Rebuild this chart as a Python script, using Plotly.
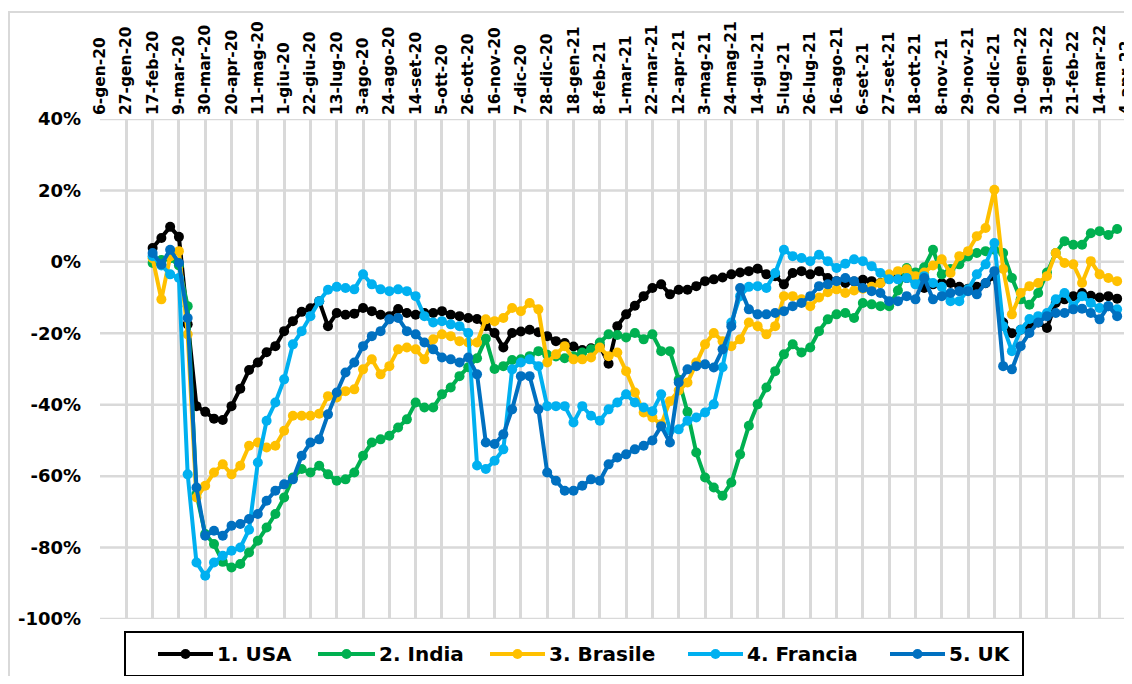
import pandas as pd
import plotly.graph_objects as go

# Weekly categories (Monday of each week) and the tick labels shown every 3 weeks
WEEKS = pd.date_range("2020-01-06", "2022-04-04", freq="7D")
TICK_LABELS = ["6-gen-20", "27-gen-20", "17-feb-20", "9-mar-20", "30-mar-20", "20-apr-20",
               "11-mag-20", "1-giu-20", "22-giu-20", "13-lug-20", "3-ago-20", "24-ago-20",
               "14-set-20", "5-ott-20", "26-ott-20", "16-nov-20", "7-dic-20", "28-dic-20",
               "18-gen-21", "8-feb-21", "1-mar-21", "22-mar-21", "12-apr-21", "3-mag-21",
               "24-mag-21", "14-giu-21", "5-lug-21", "26-lug-21", "16-ago-21", "6-set-21",
               "27-set-21", "18-ott-21", "8-nov-21", "29-nov-21", "20-dic-21", "10-gen-22",
               "31-gen-22", "21-feb-22", "14-mar-22", "4-apr-22"]
FIRST_WEEK = 6  # series start on 17-feb-20

USA = [
    3.9, 6.7, 9.8, 7.0, -17.5, -40.4, -42.0, -43.9, -44.3, -40.4,
    -35.5, -30.3, -28.2, -25.3, -23.6, -19.4, -16.6, -14.0, -13.0, -11.0,
    -18.0, -14.3, -14.8, -14.5, -12.9, -13.8, -14.8, -15.2, -13.2, -14.3,
    -14.8, -14.3, -14.3, -13.8, -14.8, -15.2, -15.7, -16.0, -18.0, -19.9,
    -24.0, -19.9, -19.5, -19.0, -19.7, -20.8, -22.2, -22.7, -23.7, -24.7,
    -24.2, -23.5, -28.5, -18.0, -14.7, -12.3, -9.6, -7.3, -6.3, -9.1,
    -7.8, -7.8, -6.8, -5.4, -4.9, -4.4, -3.5, -3.0, -2.6, -1.9,
    -3.5, -4.0, -6.3, -3.1, -2.6, -3.5, -2.6, -4.5, -5.4, -5.9,
    -5.5, -5.0, -5.4, -5.9, -4.5, -4.0, -4.5, -5.5, -7.3, -6.3,
    -5.9, -5.9, -7.0, -7.5, -7.0, -6.0, -4.0, -17.0, -20.0, -19.0,
    -18.0, -17.0, -18.5, -11.5, -10.5, -9.6, -8.7, -9.5, -10.0, -9.6, -10.3,
]
INDIA = [
    -0.3, 0.5, 1.0, -1.0, -12.4, -65.0, -76.2, -79.0, -84.0, -85.6,
    -84.6, -81.4, -78.1, -74.4, -70.6, -66.0, -60.4, -58.0, -59.0, -57.1,
    -59.5, -61.3, -60.9, -59.0, -54.3, -50.6, -49.7, -48.7, -46.4, -44.1,
    -39.4, -40.8, -40.8, -37.1, -35.2, -32.0, -29.5, -27.0, -21.5, -30.0,
    -29.2, -27.5, -27.3, -26.4, -25.0, -26.0, -26.5, -27.0, -26.4, -25.4,
    -24.5, -22.6, -20.3, -20.5, -21.2, -19.9, -21.7, -20.3, -25.0, -25.0,
    -33.0, -42.0, -53.4, -60.4, -63.2, -65.5, -61.8, -53.9, -45.9, -39.9,
    -35.2, -30.6, -25.9, -23.1, -25.4, -24.0, -19.4, -16.1, -14.7, -14.3,
    -15.7, -11.5, -11.9, -12.4, -12.4, -8.0, -1.7, -3.0, -1.5, 3.4,
    -3.5, -2.0, -0.7, 1.5, 2.5, 3.0, 3.4, 2.5, -4.5, -10.5,
    -12.0, -8.7, -3.0, 2.5, 5.8, 4.8, 4.8, 8.0, 8.6, 7.5, 9.2,
]
BRASILE = [
    1.0, -10.5, 1.5, 3.0, -20.3, -66.0, -62.7, -59.0, -56.7, -59.5,
    -57.1, -51.5, -50.6, -52.0, -51.5, -47.3, -43.1, -43.1, -43.1, -42.5,
    -37.6, -38.0, -36.2, -35.7, -30.1, -27.3, -31.5, -29.2, -24.5, -24.0,
    -24.5, -27.3, -21.7, -20.3, -20.8, -22.2, -22.6, -22.6, -16.1, -16.6,
    -15.7, -12.9, -13.8, -11.5, -13.3, -28.2, -25.9, -23.6, -27.3, -27.3,
    -26.8, -24.0, -26.4, -25.4, -30.6, -36.6, -42.2, -43.6, -45.5, -39.0,
    -36.0, -33.8, -28.2, -23.1, -19.9, -22.2, -23.6, -21.7, -17.0, -18.0,
    -20.3, -18.0, -9.6, -9.6, -10.5, -12.4, -10.0, -8.5, -7.7, -8.7,
    -8.0, -7.5, -7.0, -6.0, -3.5, -2.6, -2.1, -4.0, -3.0, -1.0,
    0.7, -3.1, 1.6, 3.0, 7.2, 9.5, 20.2, -2.0, -14.7, -8.7,
    -6.8, -5.9, -4.0, 2.5, -0.3, -0.7, -5.9, 0.2, -3.5, -4.5, -5.4,
]
FRANCIA = [
    1.6, -1.0, -3.5, -4.5, -59.5, -84.2, -87.9, -84.2, -82.3, -80.9,
    -80.0, -75.0, -56.2, -44.5, -39.4, -32.9, -23.1, -19.4, -15.2, -11.0,
    -7.8, -7.0, -7.3, -7.7, -3.5, -6.3, -7.7, -8.2, -7.7, -8.2,
    -9.6, -15.2, -17.0, -16.6, -17.5, -18.0, -19.9, -57.0, -58.0, -55.7,
    -52.5, -30.1, -28.2, -27.3, -29.2, -40.4, -40.4, -40.4, -45.0, -40.4,
    -43.1, -44.5, -41.3, -39.4, -37.1, -39.4, -40.8, -41.8, -37.1, -47.3,
    -46.9, -44.5, -43.6, -42.2, -39.9, -29.5, -17.0, -9.6, -7.0, -6.8,
    -7.3, -3.1, 3.4, 1.6, 1.1, 0.2, 2.0, 0.2, -1.7, -0.5,
    0.7, 0.2, -1.2, -3.1, -4.9, -4.9, -4.5, -6.3, -4.0, -5.9,
    -7.0, -11.0, -11.0, -7.7, -3.5, -0.7, 5.3, -18.0, -25.0, -19.0,
    -16.0, -15.2, -14.3, -10.5, -8.7, -12.4, -9.6, -11.5, -12.9, -12.4, -13.3,
]
UK = [
    2.5, -0.7, 3.4, -0.3, -15.7, -63.2, -76.7, -75.3, -76.7, -73.9,
    -73.4, -72.0, -70.6, -66.9, -64.1, -62.3, -60.9, -54.3, -50.6, -49.7,
    -42.7, -36.6, -31.0, -28.2, -23.6, -20.8, -19.4, -16.1, -15.7, -19.4,
    -20.3, -22.6, -24.5, -26.8, -27.3, -28.2, -26.8, -31.5, -50.6, -51.0,
    -48.3, -41.3, -32.0, -32.0, -41.3, -59.0, -61.3, -64.1, -64.1, -62.7,
    -60.9, -61.3, -56.7, -54.8, -53.9, -52.5, -51.5, -50.0, -46.0, -50.6,
    -33.8, -30.1, -29.2, -28.7, -29.6, -24.5, -18.0, -7.3, -13.3, -14.7,
    -14.7, -14.3, -13.8, -12.4, -11.5, -9.6, -6.8, -6.3, -5.4, -4.5,
    -5.4, -7.3, -8.2, -8.7, -11.0, -11.0, -9.6, -10.5, -4.5, -10.5,
    -9.6, -8.7, -8.2, -8.2, -9.1, -5.9, -2.6, -29.2, -30.1, -23.6,
    -19.9, -17.0, -15.2, -14.3, -14.3, -13.3, -13.1, -14.3, -16.1, -12.4, -15.2,
]

SERIES = [
    ("1. USA", USA, "#000000"),
    ("2. India", INDIA, "#00B050"),
    ("3. Brasile", BRASILE, "#FFC000"),
    ("4. Francia", FRANCIA, "#00B0F0"),
    ("5. UK", UK, "#0070C0"),
]
Y_TICKS = [-100, -80, -60, -40, -20, 0, 20, 40]
Y_LABELS = ["-100%", "-80%", "-60%", "-40%", "-20%", "0%", "20%", "40%"]

# Figure geometry (the page adds an 8px body margin)
W, H = 1124, 668
L, R, T, B = 92, 6, 111, 57
pw, ph = W - L - R, H - T - B
FONT = "DejaVu Sans, Verdana, sans-serif"
GRID = "#D9D9D9"

def px_x(x):
    return (x - L) / pw

def px_y(y):
    return (H - B - y) / ph

# legend key: symbol start / end and text start (figure px), one per series
LEG_SYM = [(150, 205), (310, 367), (482, 537), (680, 735), (882, 937)]
LEG_TEXT_X = [207, 369, 539, 737, 939]
LEG_Y = 646

x_end = WEEKS[-1] + pd.Timedelta(hours=2)

fig = go.Figure()
# horizontal grid lines at every y tick
for v in Y_TICKS:
    fig.add_trace(go.Scatter(
        x=[WEEKS[0], x_end], y=[v, v], mode="lines",
        line=dict(color=GRID, width=2.5), showlegend=False,
    ))

for name, vals, color in SERIES:
    xs = WEEKS[FIRST_WEEK:FIRST_WEEK + len(vals)]
    fig.add_trace(go.Scatter(
        x=xs, y=vals, name=name, mode="lines+markers",
        line=dict(color=color, width=4),
        marker=dict(color=color, size=10),
        showlegend=False,
    ))

shapes = [
    # legend frame
    dict(type="rect", xref="paper", yref="paper", layer="above",
         x0=px_x(117), x1=px_x(1015), y0=px_y(668), y1=px_y(624),
         line=dict(color="black", width=2), fillcolor="rgba(0,0,0,0)"),
    # chart-area border (top and left)
    dict(type="line", xref="paper", yref="paper", layer="above",
         x0=px_x(0), x1=px_x(1124), y0=px_y(4), y1=px_y(4),
         line=dict(color=GRID, width=2)),
    dict(type="line", xref="paper", yref="paper", layer="above",
         x0=px_x(1), x1=px_x(1), y0=px_y(4), y1=px_y(676),
         line=dict(color=GRID, width=2)),
]
annotations = []
for (name, _, color), (s0, s1), tx in zip(SERIES, LEG_SYM, LEG_TEXT_X):
    shapes.append(dict(type="line", xref="paper", yref="paper", layer="above",
                       x0=px_x(s0), x1=px_x(s1), y0=px_y(LEG_Y), y1=px_y(LEG_Y),
                       line=dict(color=color, width=4)))
    cx = (s0 + s1) / 2
    shapes.append(dict(type="circle", xref="paper", yref="paper", layer="above",
                       x0=px_x(cx - 5), x1=px_x(cx + 5),
                       y0=px_y(LEG_Y + 5), y1=px_y(LEG_Y - 5),
                       line=dict(color=color, width=0), fillcolor=color))
    annotations.append(dict(xref="paper", yref="paper", x=px_x(tx), y=px_y(LEG_Y),
                            xanchor="left", yanchor="middle", showarrow=False,
                            text=name,
                            font=dict(size=20, weight="bold", family=FONT, color="black")))

fig.update_layout(
    width=W, height=H,
    margin=dict(l=L, r=R, t=T, b=B, autoexpand=False),
    paper_bgcolor="white", plot_bgcolor="white",
    showlegend=False,
    xaxis=dict(
        type="date", side="top",
        range=[WEEKS[0], x_end],
        tickmode="array", tickvals=list(WEEKS[::3]), ticktext=TICK_LABELS,
        tickangle=-90, ticklabeloverflow="allow",
        tickfont=dict(size=15.5, weight="bold", family=FONT, color="black"),
        ticklabelstandoff=3,
        showgrid=True, gridcolor=GRID, gridwidth=2.5,
    ),
    yaxis=dict(
        range=[-100, 40],
        tickmode="array", tickvals=Y_TICKS, ticktext=Y_LABELS,
        tickfont=dict(size=18, weight="bold", family=FONT, color="black"),
        ticklabelstandoff=18,
        showgrid=False,
    ),
    shapes=shapes,
    annotations=annotations,
)

fig.write_html("out.html")
